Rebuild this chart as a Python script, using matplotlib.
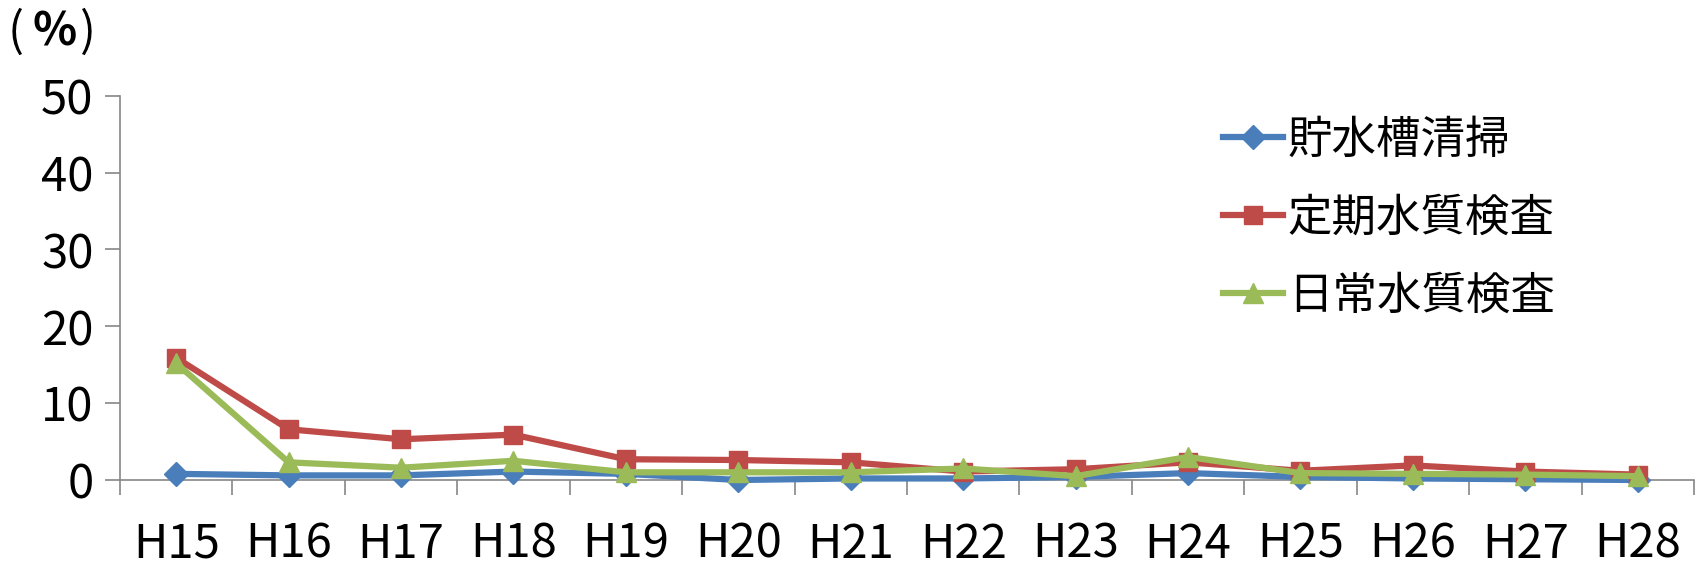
import numpy as np
import matplotlib
matplotlib.use("Agg")
import matplotlib.pyplot as plt

plt.rcParams['font.family'] = ['Noto Sans CJK JP', 'DejaVu Sans']

# 年度と各項目の割合(%)
nendo = ["H15", "H16", "H17", "H18", "H19", "H20", "H21",
         "H22", "H23", "H24", "H25", "H26", "H27", "H28"]
chosuiso_seiso = [0.8, 0.6, 0.6, 1.1, 0.8, 0.0, 0.2, 0.2, 0.4, 0.9, 0.4, 0.2, 0.1, 0.0]
teiki_suishitsu = [15.9, 6.6, 5.3, 5.9, 2.7, 2.6, 2.3, 1.1, 1.4, 2.3, 1.2, 1.9, 1.1, 0.7]
nichijo_suishitsu = [15.2, 2.3, 1.6, 2.5, 1.0, 1.0, 1.0, 1.5, 0.5, 3.0, 0.9, 0.8, 0.7, 0.5]
y_ticks = [0, 10, 20, 30, 40, 50]

x = np.arange(len(nendo))

W, H = 1706, 569
fig = plt.figure(figsize=(W / 100, H / 100), dpi=100)
ax = fig.add_axes([120 / W, 1 - 480 / H, 1574 / W, 384.3 / H])

ax.plot(x, chosuiso_seiso, "-D", color="#4A7EBB", lw=4.5, ms=12,
        label="貯水槽清掃", clip_on=False, zorder=3)
ax.plot(x, teiki_suishitsu, "-s", color="#BE4B48", lw=4.5, ms=13,
        label="定期水質検査", clip_on=False, zorder=4)
ax.plot(x, nichijo_suishitsu, "-^", color="#9BBB59", lw=4.5, ms=15,
        label="日常水質検査", clip_on=False, zorder=5)

ax.set_xlim(-0.5, len(nendo) - 0.5)
ax.set_ylim(0, 50)
ax.set_yticks(y_ticks)
ax.tick_params(axis="y", labelsize=34, length=11, width=1.2, color="#868686", pad=8)

# カテゴリ境界に目盛り、ラベルは中央
ax.set_xticks(x)
ax.set_xticklabels(nendo)
ax.set_xticks(np.arange(-0.5, len(nendo)), minor=True)
ax.tick_params(axis="x", which="major", length=0, labelsize=34, pad=29)
ax.tick_params(axis="x", which="minor", length=11, width=1.2, color="#868686")

for s in ["top", "right"]:
    ax.spines[s].set_visible(False)
for s in ["left", "bottom"]:
    ax.spines[s].set_color("#868686")
    ax.spines[s].set_linewidth(1.2)

# 単位 (%)
yu = 1 - 33 / H
fig.text(8 / W, yu, "(", fontsize=34, va="center", ha="left")
fig.text(33 / W, yu, "%", fontsize=33, fontweight="bold", va="center", ha="left")
fig.text(80 / W, yu, ")", fontsize=34, va="center", ha="left")

ax.legend(loc="upper left", bbox_to_anchor=(0.701, 0.945), frameon=False,
          fontsize=32, handlelength=1.35, handletextpad=0.1, labelspacing=0.72,
          borderaxespad=0, borderpad=0)

plt.savefig("out.png", dpi=100)
